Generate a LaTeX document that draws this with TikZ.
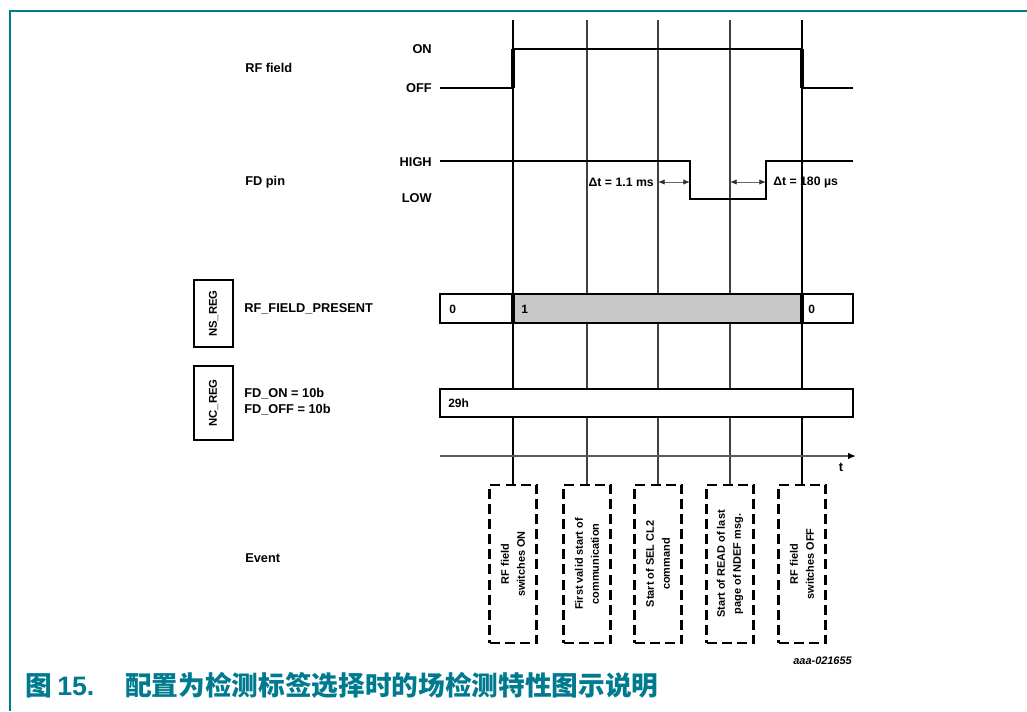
\documentclass[tikz,border=0pt]{standalone}
\usepackage{fontspec}
\usepackage{graphicx}
\setmainfont{Liberation Sans}
\newfontfamily\cjk{Noto Sans CJK SC}
\usetikzlibrary{arrows.meta}
\definecolor{frameteal}{RGB}{0,122,143}
\definecolor{barfill}{RGB}{200,200,200}
\begin{document}
\begin{tikzpicture}[x=0.75pt,y=-0.75pt,
  lbl/.style={font=\fontsize{9.6}{12}\selectfont\bfseries, inner sep=0pt},
  vallbl/.style={font=\fontsize{9}{11}\selectfont\bfseries, inner sep=0pt, anchor=west},
  sig/.style={line width=1.7pt, line join=miter},
  vmajor/.style={line width=1.5pt, black},
  vminor/.style={line width=0.9pt, black!75},
  barline/.style={line width=1.9pt},
  dtarrow/.style={line width=0.6pt, black!60, {Latex[length=5pt,width=4pt,black!80]}-{Latex[length=5pt,width=4pt,black!80]}},
  regbox/.style={draw, line width=1.8pt, minimum width=29.25pt, inner sep=0pt},
  regtext/.style={rotate=90, font=\fontsize{8.5}{10}\selectfont\bfseries, inner sep=0pt},
  evbox/.style={draw, line width=2.1pt, dash pattern=on 7.5pt off 3.8pt, minimum width=35.25pt, minimum height=118.5pt, inner sep=0pt},
  evtext/.style={rotate=90, align=center, font=\fontsize{8.2}{12}\selectfont\bfseries, inner sep=0pt},
  axisline/.style={line width=1.3pt, black!65}
]
\useasboundingbox (0,0) rectangle (1027,711);
% frame
\draw[frameteal, line width=1.9pt] (10,711) -- (10,11) -- (1027,11);

% left labels
\node[lbl, anchor=west] (rflbl) at (245,68) {RF field};
\node[lbl, anchor=west] (fdlbl) at (245,182) {FD pin};
\node[lbl, anchor=east] (on) at (432,49) {ON};
\node[lbl, anchor=east] (off) at (432,88) {OFF};
\node[lbl, anchor=east] (high) at (432,162) {HIGH};
\node[lbl, anchor=east] (low) at (432,198) {LOW};
\node[lbl, anchor=west] (rfp) at (244,309) {RF\_FIELD\_PRESENT};
\node[lbl, anchor=west, align=left, font=\fontsize{9.6}{12}\selectfont\bfseries] (fdon) at (244,402) {FD\_ON = 10b\\FD\_OFF = 10b};
\node[lbl, anchor=west] (evlbl) at (245,558) {Event};

% register name boxes
\node[regbox, minimum height=50.25pt] (ns) at (213.5,313.5) {};
\node[regtext] at (ns) {NS\_REG};
\node[regbox, minimum height=55.5pt] (nc) at (213.5,403) {};
\node[regtext] at (nc) {NC\_REG};

% event boxes
\node[evbox] (e1) at (513,564) {};
\node[evbox] (e2) at (587,564) {};
\node[evbox] (e3) at (658,564) {};
\node[evbox] (e4) at (730,564) {};
\node[evbox] (e5) at (802,564) {};
\node[evtext] at (e1) {RF field\\switches ON};
\node[evtext] at (e2) {First valid start of\\communication};
\node[evtext] at (e3) {Start of SEL CL2\\command};
\node[evtext] at (e4) {Start of READ of last\\page of NDEF msg.};
\node[evtext] at (e5) {RF field\\switches OFF};

% vertical time markers
\coordinate (ta) at (513,20);
\coordinate (tb) at (587,20);
\coordinate (tc) at (658,20);
\coordinate (td) at (730,20);
\coordinate (te) at (802,20);
\draw[vmajor] (ta) -- (e1.north);
\draw[vminor] (tb) -- (e2.north);
\draw[vminor] (tc) -- (e3.north);
\draw[vminor] (td) -- (e4.north);
\draw[vmajor] (te) -- (e5.north);

% RF field signal
\draw[sig] (440,88) -- (513,88) -- (513,49) -- (802,49) -- (802,88) -- (853,88);
\draw[line width=2.6pt] (513,88) -- (513,49);
\draw[line width=2.6pt] (802,49) -- (802,88);
% FD pin signal
\coordinate (fdfall) at (690,182);
\coordinate (fdrise) at (766,182);
\draw[sig] (440,161) -- (690,161) -- (690,199) -- (766,199) -- (766,161) -- (853,161);

% delta t annotations
\coordinate (dta) at (658,182);
\coordinate (dtb) at (730,182);
\draw[dtarrow] (dta) -- (fdfall);
\draw[dtarrow] (dtb) -- (fdrise);
\node[font=\fontsize{9.2}{11}\selectfont\bfseries, inner sep=0pt, anchor=east] (dt1) at (654,182) {Δt = 1.1 ms};
\node[font=\fontsize{9.2}{11}\selectfont\bfseries, inner sep=0pt, anchor=west] (dt2) at (773,182) {Δt = 180 µs};

% NS_REG bar
\fill[white] (440,294) rectangle (853,323);
\fill[barfill] (513,294) rectangle (802,323);
\draw[barline] (440,294) rectangle (853,323);
\draw[line width=2.4pt] (513,294) -- (513,323);
\draw[line width=2.4pt] (802,294) -- (802,323);
\node[vallbl] (v0) at (449,309) {0};
\node[vallbl] (v1) at (521,309) {1};
\node[vallbl] (v2) at (808,309) {0};

% NC_REG bar
\filldraw[fill=white, barline] (440,389) rectangle (853,417);
\node[vallbl] (v29) at (448,403) {29h};

% time axis
\coordinate (ax0) at (440,456);
\coordinate (ax1) at (856,456);
\draw[axisline, -{Latex[length=6pt,width=5pt,black]}] (ax0) -- (ax1);
\node[font=\fontsize{9.6}{11}\selectfont\bfseries, inner sep=0pt] (tl) at (841,467) {t};

% figure id
\node[font=\fontsize{8.2}{10}\selectfont\bfseries\itshape, inner sep=0pt, anchor=east] (fid) at (852,661) {aaa-021655};

% caption
\node[frameteal, inner sep=0pt, anchor=base west, font=\fontsize{20}{22}\selectfont] (cap1) at (25,695) {\cjk\bfseries 图};
\node[frameteal, inner sep=0pt, anchor=base west, font=\fontsize{20}{22}\selectfont\bfseries] (cap2) at (57,695) {15.};
\node[frameteal, inner sep=0pt, anchor=base west, font=\fontsize{20}{22}\selectfont] (cap3) at (125,695) {\cjk\bfseries 配置为检测标签选择时的场检测特性图示说明};
\end{tikzpicture}
\end{document}
